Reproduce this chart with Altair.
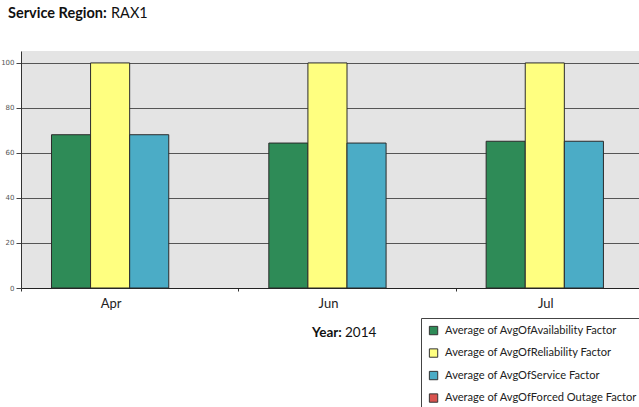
import altair as alt
import pandas as pd

# Monthly averages per factor for the service region
months = ["Apr", "Jun", "Jul"]
series = [
    "Average of AvgOfAvailability Factor",
    "Average of AvgOfReliability Factor",
    "Average of AvgOfService Factor",
    "Average of AvgOfForced Outage Factor",
]
availability = [68.1, 64.4, 65.2]
reliability = [100, 100, 100]
service = [68.1, 64.4, 65.2]
forced_outage = [0, 0, 0]
colors = ["#2e8b57", "#ffff80", "#4bacc6", "#d9534f"]

rows = []
for name, vals in zip(series, [availability, reliability, service, forced_outage]):
    for m, v in zip(months, vals):
        rows.append({"month": m, "series": name, "value": v})
df = pd.DataFrame(rows)

FONT = "Lato"

bars = alt.Chart(df).transform_filter(
    alt.datum.value > 0
).mark_bar(stroke="#2b2b2b", strokeWidth=1).encode(
    x=alt.X(
        "month:N",
        sort=months,
        title=None,
        scale=alt.Scale(range=[0, 652], paddingInner=0, paddingOuter=0),
        axis=alt.Axis(
            tickBand="extent",
            labelOffset=-19,
            labelAngle=0,
            labelFont=FONT,
            labelFontSize=13,
            labelColor="#222222",
            labelPadding=6,
            tickSize=3,
            tickColor="#333333",
            domainColor="#222222",
            grid=False,
        ),
    ),
    xOffset=alt.XOffset(
        "series:N",
        scale=alt.Scale(domain=series, paddingInner=0, paddingOuter=0.78),
    ),
    y=alt.Y(
        "value:Q",
        title=None,
        scale=alt.Scale(domain=[0, 105.3], nice=False),
        axis=alt.Axis(
            values=[0, 20, 40, 60, 80, 100],
            labelFont="DejaVu Sans",
            labelFontSize=7,
            labelColor="#555555",
            labelPadding=2,
            tickSize=5,
            tickColor="#444444",
            domainColor="#333333",
            gridColor="#555555",
            gridWidth=1.2,
        ),
    ),
    color=alt.Color(
        "series:N",
        scale=alt.Scale(domain=series, range=colors),
        legend=alt.Legend(
            title=None,
            orient="none",
            legendX=400,
            legendY=267,
            fillColor="white",
            strokeColor="#444444",
            padding=7,
            symbolType="square",
            symbolSize=70,
            symbolStrokeColor="#333333",
            symbolStrokeWidth=1,
            labelFont=FONT,
            labelFontSize=11.1,
            labelColor="#222222",
            labelOffset=6,
            rowPadding=9.5,
            labelLimit=300,
        ),
    ),
)

def label(text, x, y, bold=False, size=13):
    return alt.Chart(pd.DataFrame({"t": [text]})).mark_text(
        font=FONT,
        fontSize=size,
        fontWeight="bold" if bold else "normal",
        align="left",
        baseline="middle",
        color="#111111",
    ).encode(text="t:N", x=alt.value(x), y=alt.value(y))

chart = alt.layer(
    bars,
    label("Service Region:", -13, -37, bold=True, size=14.5),
    label("RAX1", 90, -37, size=14.5),
    label("Year:", 291, 282, bold=True, size=13.5),
    label("2014", 324, 282, size=13.5),
).properties(
    width=618,
    height=237,
    padding={"left": 21, "top": 51, "right": 0, "bottom": 119},
    autosize=alt.AutoSizeParams(type="none"),
    background="white",
).configure_view(fill="#e4e4e4", stroke=None)

chart.save("out.html", embed_options={"renderer": "svg", "actions": False})
